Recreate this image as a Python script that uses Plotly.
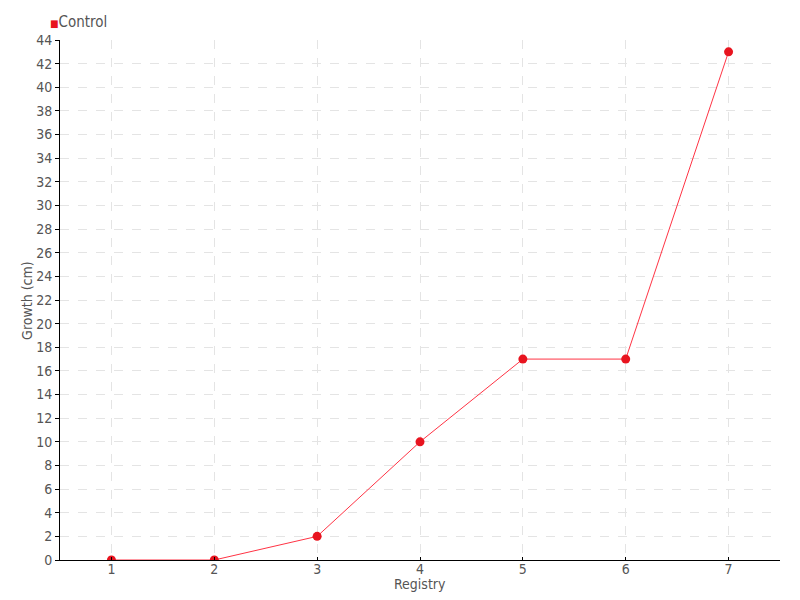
import plotly.graph_objects as go

registry = [1, 2, 3, 4, 5, 6, 7]
growth = [0, 0, 2, 10, 17, 17, 43]
y_ticks = list(range(0, 45, 2))
series_name = "Control"
x_title = "Registry"
y_title = "Growth (cm)"

FONT = "Liberation Sans Narrow, DejaVu Sans Condensed, sans-serif"
TXT = "#555555"

fig = go.Figure()
fig.add_trace(go.Scatter(
    x=registry, y=growth, mode="lines+markers", name=series_name,
    line=dict(color="#ff3344", width=1),
    marker=dict(color="#e8141f", size=9, symbol="circle"),
    showlegend=False,
))

# legend-like label
fig.add_annotation(
    xref="paper", yref="paper", x=-0.017, y=1.035, xanchor="left", yanchor="middle",
    text="<span style='color:#e8141f;font-size:10px'>■</span>" + series_name,
    showarrow=False, font=dict(family=FONT, size=15, color=TXT),
)
# axis titles
fig.add_annotation(
    xref="paper", yref="paper", x=0.5, y=-0.047, xanchor="center", yanchor="middle",
    text=x_title, showarrow=False, font=dict(family=FONT, size=14, color=TXT),
)
fig.add_annotation(
    xref="paper", yref="paper", x=-0.046, y=0.5, xanchor="center", yanchor="middle",
    text=y_title, textangle=-90, showarrow=False,
    font=dict(family=FONT, size=14, color=TXT),
)

fig.update_layout(
    width=800, height=600,
    paper_bgcolor="white", plot_bgcolor="white",
    margin=dict(l=60, r=20, t=40, b=40, autoexpand=False),
    font=dict(family=FONT, size=14, color=TXT),
    showlegend=False,
    xaxis=dict(
        range=[0.5, 7.5], tickmode="array", tickvals=registry,
        ticktext=[str(v) for v in registry],
        showgrid=True, gridcolor="#e4e4e4", griddash="dash", gridwidth=1,
        showline=True, linecolor="black", linewidth=1,
        ticks="inside", ticklen=3, tickcolor="black",
        zeroline=False, automargin=False,
        ticklabelstandoff=-4,
        tickfont=dict(size=14, color=TXT),
    ),
    yaxis=dict(
        range=[0, 44], tickmode="array", tickvals=y_ticks,
        showgrid=True, gridcolor="#e4e4e4", griddash="dash", gridwidth=1,
        showline=True, linecolor="black", linewidth=1,
        ticks="outside", ticklen=4, tickcolor="black",
        zeroline=False, automargin=False,
        tickfont=dict(size=14, color=TXT),
    ),
)

fig.write_html("out.html", config={"displayModeBar": False},
               post_script="document.body.style.margin='0';")
